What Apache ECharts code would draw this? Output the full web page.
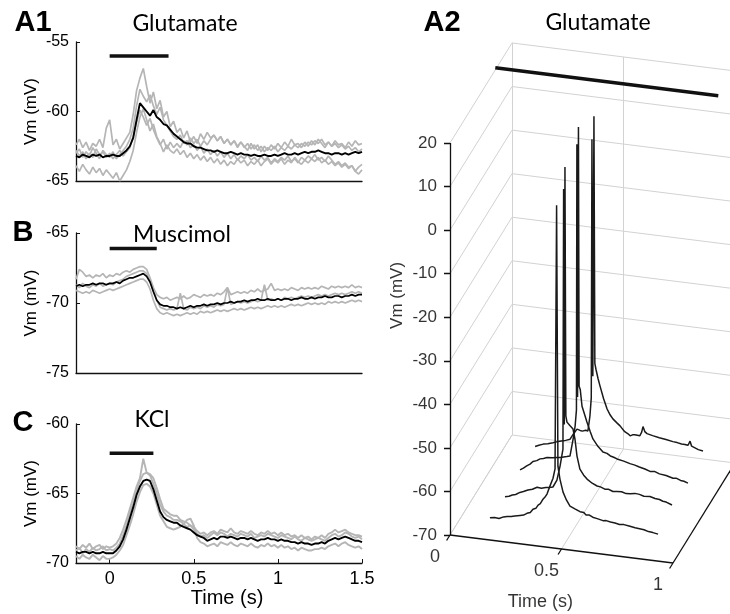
<!DOCTYPE html>
<html><head><meta charset="utf-8">
<script src="https://cdn.jsdelivr.net/npm/echarts@6/dist/echarts.min.js"></script>
<style>html,body{margin:0;padding:0;background:#fff}#c{width:730px;height:614px}</style>
</head><body><div id="c"></div>
<script>
// ---------- sampling of left-panel traces ----------
const T0 = -0.2, DT = 0.02;   // traces sampled every 20 ms from -0.2 s

// ---------- A1 Glutamate ----------
const a1Mean = [-63.2,-63.3,-63.1,-63.2,-63.3,-63.1,-63.2,-63.1,-63.3,-63.2,
 -63.2,-63.1,-63.2,-63.2,-63.0,-62.8,-62.5,-61.9,-60.6,-59.4,
 -59.7,-60.0,-60.3,-59.9,-60.4,-60.6,-60.9,-61.0,-61.3,-61.6,
 -61.8,-62.0,-62.2,-62.3,-62.3,-62.5,-62.6,-62.6,-62.7,-62.8,
 -62.8,-62.9,-62.8,-62.9,-63.0,-63.0,-62.9,-63.0,-63.1,-63.0,
 -63.1,-63.1,-63.2,-63.1,-63.2,-63.2,-63.1,-63.2,-63.2,-63.1,
 -63.2,-63.1,-63.0,-63.1,-63.1,-63.0,-63.1,-63.0,-62.9,-63.0,
 -62.9,-62.9,-62.8,-62.9,-63.0,-63.0,-63.1,-63.0,-63.0,-63.1,
 -63.0,-63.1,-63.0,-62.9,-63.0,-62.9];
const a1Trial1 = [-62.4,-62.0,-62.6,-62.2,-62.8,-62.3,-62.5,-62.0,-62.6,-61.2,
 -60.6,-62.4,-62.0,-62.7,-62.3,-61.9,-61.5,-60.2,-58.5,-57.6,
 -56.9,-58.2,-59.4,-58.6,-59.8,-59.2,-60.4,-60.0,-61.1,-60.7,
 -61.5,-61.2,-61.9,-61.4,-62.2,-61.8,-62.3,-61.6,-62.0,-61.5,
 -61.9,-61.7,-62.1,-61.8,-62.3,-62.0,-62.4,-62.1,-62.6,-62.2,
 -62.5,-62.8,-62.3,-62.7,-62.4,-62.9,-62.5,-62.8,-62.4,-62.7,
 -62.3,-62.6,-62.2,-62.5,-62.0,-62.4,-62.3,-62.6,-62.2,-62.5,
 -62.1,-62.4,-62.0,-62.3,-62.6,-62.2,-62.5,-62.1,-62.4,-62.3,
 -62.6,-62.2,-62.5,-62.1,-62.4,-62.3];
const a1Trial2 = [-63.9,-64.3,-63.8,-64.2,-64.5,-64.0,-64.4,-64.1,-64.6,-64.2,
 -64.5,-64.8,-64.4,-65.0,-64.6,-64.2,-63.6,-62.8,-61.5,-60.4,
 -59.8,-60.6,-61.4,-60.9,-61.8,-62.3,-62.9,-62.4,-62.8,-63.0,
 -62.7,-63.1,-62.8,-63.3,-63.0,-63.4,-63.1,-63.5,-63.2,-63.6,
 -63.3,-63.7,-63.4,-63.8,-63.5,-63.9,-63.6,-63.8,-63.4,-63.7,
 -63.5,-63.9,-63.6,-63.8,-63.5,-63.9,-63.6,-63.4,-63.8,-63.5,
 -63.7,-63.4,-63.8,-63.5,-63.7,-63.3,-63.6,-63.8,-63.5,-63.7,
 -63.4,-63.6,-63.3,-63.7,-63.5,-63.8,-63.6,-63.9,-63.7,-64.0,
 -63.8,-64.1,-63.9,-64.3,-64.0,-63.8];
const a1Trial3 = [-63.0,-62.7,-63.3,-62.9,-63.2,-62.6,-63.0,-63.4,-62.8,-63.1,
 -63.3,-62.9,-63.4,-63.1,-62.8,-62.5,-62.0,-61.2,-59.6,-58.4,
 -58.9,-59.3,-58.8,-59.6,-60.2,-59.7,-60.6,-61.0,-61.4,-61.8,
 -62.0,-61.7,-62.3,-62.1,-62.6,-62.4,-62.8,-62.5,-63.0,-62.7,
 -63.1,-62.8,-63.2,-62.9,-63.3,-63.0,-63.4,-63.1,-63.5,-63.2,
 -63.4,-63.1,-63.5,-63.3,-63.6,-63.2,-63.5,-63.3,-63.7,-63.4,
 -63.6,-63.3,-63.5,-63.2,-63.6,-63.4,-63.7,-63.3,-63.5,-63.2,
 -63.4,-63.1,-63.5,-63.3,-63.6,-63.2,-63.5,-63.8,-63.6,-63.9,
 -63.7,-64.0,-63.9,-64.3,-64.5,-64.2];
const a1Trial4 = [-62.8,-63.2,-62.9,-63.4,-63.0,-63.3,-62.7,-63.1,-62.9,-63.3,
 -63.0,-63.4,-63.1,-62.8,-63.2,-62.9,-62.6,-61.8,-60.8,-59.9,
 -60.4,-61.0,-60.5,-61.3,-61.9,-62.4,-62.0,-62.7,-62.2,-62.6,
 -62.3,-62.6,-62.1,-62.4,-61.9,-62.3,-62.0,-62.5,-62.1,-62.4,
 -62.0,-61.7,-62.1,-61.8,-62.3,-62.0,-62.4,-62.1,-62.5,-62.2,
 -62.6,-62.3,-62.7,-62.4,-62.8,-62.5,-62.9,-62.6,-62.8,-62.5,
 -62.9,-62.6,-62.8,-62.5,-62.7,-62.4,-62.6,-62.3,-62.5,-62.2,
 -62.4,-62.1,-62.3,-62.0,-62.4,-62.2,-62.5,-62.3,-62.6,-62.4,
 -62.7,-62.5,-62.8,-62.6,-62.9,-62.7];
const a1StimTime = [0, 0.35], a1StimLevel = -56.0;

// ---------- B Muscimol ----------
const bMean = [-68.8,-68.7,-68.8,-68.7,-68.7,-68.6,-68.7,-68.6,-68.6,-68.7,
 -68.6,-68.6,-68.5,-68.6,-68.4,-68.3,-68.2,-68.2,-68.1,-68.0,
 -67.9,-68.1,-68.5,-69.2,-69.8,-70.1,-70.2,-70.2,-70.3,-70.3,
 -70.4,-70.3,-70.4,-70.3,-70.2,-70.3,-70.2,-70.2,-70.1,-70.2,
 -70.1,-70.1,-70.0,-70.1,-70.0,-70.0,-69.9,-70.0,-69.9,-69.9,
 -69.8,-69.9,-69.8,-69.8,-69.7,-69.8,-69.8,-69.7,-69.8,-69.8,
 -69.7,-69.8,-69.7,-69.7,-69.8,-69.7,-69.7,-69.6,-69.7,-69.7,
 -69.6,-69.7,-69.6,-69.6,-69.5,-69.6,-69.6,-69.5,-69.5,-69.6,
 -69.5,-69.5,-69.4,-69.5,-69.4,-69.4];
const bTrial1 = [-68.3,-67.6,-67.8,-68.1,-68.0,-68.2,-68.0,-68.1,-67.9,-68.2,
 -68.0,-68.1,-67.9,-68.0,-67.8,-67.7,-67.8,-67.6,-67.5,-67.4,
 -67.4,-67.6,-68.2,-68.9,-69.4,-69.6,-69.7,-69.6,-69.8,-69.7,
 -69.6,-69.7,-69.5,-69.7,-69.6,-69.4,-69.5,-69.6,-69.4,-69.5,
 -69.4,-69.5,-69.3,-69.4,-69.2,-68.9,-69.4,-69.3,-69.2,-69.3,
 -69.2,-69.3,-69.1,-69.2,-69.0,-69.2,-69.1,-69.0,-68.6,-69.1,
 -69.0,-69.1,-69.0,-69.1,-68.9,-69.0,-69.1,-68.9,-69.0,-68.9,
 -69.0,-68.9,-69.0,-68.8,-68.9,-69.0,-68.8,-68.9,-68.8,-68.9,
 -68.8,-68.9,-68.7,-68.9,-68.8,-68.9];
const bTrial2 = [-69.1,-69.2,-69.3,-69.2,-69.3,-69.1,-69.2,-69.3,-69.2,-69.1,
 -69.0,-69.1,-69.0,-68.9,-68.8,-68.7,-68.6,-68.5,-68.4,-68.3,
 -68.3,-68.5,-69.0,-69.8,-70.4,-70.7,-70.8,-70.7,-70.8,-70.9,
 -70.8,-70.9,-70.8,-70.7,-70.8,-70.7,-70.8,-70.6,-70.7,-70.6,
 -70.7,-70.6,-70.5,-70.6,-70.5,-70.6,-70.5,-70.4,-70.5,-70.4,
 -70.5,-70.4,-70.3,-70.4,-70.3,-70.4,-70.3,-70.2,-70.3,-70.2,
 -70.3,-70.2,-70.3,-70.2,-70.1,-70.2,-70.1,-70.2,-70.1,-70.0,
 -70.1,-70.0,-70.1,-70.0,-70.1,-69.9,-70.0,-69.9,-70.0,-69.9,
 -70.0,-69.9,-69.8,-69.9,-69.8,-69.9];
const bTrial3 = [-68.7,-68.9,-68.6,-68.8,-68.9,-68.7,-68.8,-68.6,-68.8,-68.7,
 -68.6,-68.7,-68.5,-68.4,-68.3,-68.1,-68.0,-67.9,-67.8,-67.7,
 -67.7,-67.9,-68.4,-69.1,-69.8,-70.3,-70.4,-70.5,-70.4,-70.5,
 -70.4,-69.3,-70.4,-70.5,-70.3,-70.4,-70.3,-70.4,-70.2,-70.3,
 -70.2,-70.3,-70.1,-70.2,-70.1,-68.9,-70.1,-70.0,-69.9,-70.0,
 -69.9,-70.0,-69.9,-69.8,-69.9,-69.8,-68.7,-69.8,-69.7,-69.8,
 -69.7,-69.8,-69.6,-69.7,-69.6,-69.7,-69.6,-69.5,-69.6,-69.5,
 -69.6,-69.5,-69.4,-69.5,-69.4,-69.5,-69.4,-69.3,-69.4,-69.3,
 -69.4,-69.3,-69.2,-69.3,-69.2,-69.3];
const bStimTime = [0, 0.28], bStimLevel = -66.1;

// ---------- C KCl ----------
const cMean = [-69.2,-69.3,-69.2,-69.2,-69.3,-69.2,-69.3,-69.3,-69.2,-69.3,
 -69.3,-69.3,-69.1,-68.8,-68.3,-67.6,-66.8,-66.0,-65.1,-64.5,
 -64.1,-64.0,-64.1,-64.7,-65.5,-66.3,-66.7,-66.9,-67.0,-67.1,
 -67.1,-67.3,-67.4,-67.5,-67.6,-67.8,-68.0,-68.1,-68.2,-68.4,
 -68.3,-68.2,-68.3,-68.1,-68.1,-68.2,-68.1,-68.2,-68.3,-68.2,
 -68.2,-68.3,-68.2,-68.3,-68.4,-68.3,-68.3,-68.2,-68.3,-68.3,
 -68.4,-68.3,-68.4,-68.4,-68.5,-68.5,-68.6,-68.5,-68.6,-68.6,
 -68.7,-68.6,-68.6,-68.5,-68.6,-68.4,-68.3,-68.2,-68.3,-68.2,
 -68.1,-68.2,-68.3,-68.4,-68.4,-68.5];
const cTrial1 = [-68.8,-69.0,-68.7,-68.9,-68.6,-69.0,-68.8,-68.7,-69.0,-68.8,
 -68.9,-68.8,-68.6,-68.2,-67.6,-66.9,-66.1,-65.3,-64.5,-63.9,
 -62.5,-63.5,-63.6,-63.9,-64.6,-65.4,-66.1,-66.3,-66.5,-66.6,
 -66.6,-66.9,-67.0,-67.1,-67.3,-67.4,-67.7,-67.9,-67.8,-68.0,
 -67.8,-67.7,-67.9,-67.6,-67.7,-67.8,-67.5,-67.8,-67.9,-67.7,
 -67.8,-67.9,-67.7,-67.9,-68.0,-67.8,-67.9,-67.7,-67.9,-67.8,
 -68.0,-67.8,-68.0,-67.9,-68.1,-68.0,-68.2,-68.0,-68.2,-68.1,
 -68.3,-68.1,-68.2,-68.0,-68.2,-67.9,-67.8,-67.6,-67.8,-67.7,
 -67.6,-67.8,-67.9,-68.0,-68.0,-68.1];
const cTrial2 = [-69.5,-69.7,-69.4,-69.6,-69.7,-69.4,-69.6,-69.8,-69.5,-69.7,
 -69.7,-69.6,-69.4,-69.1,-68.7,-68.0,-67.3,-66.5,-65.6,-64.9,
 -64.4,-64.3,-64.5,-65.0,-65.8,-66.6,-67.0,-67.4,-67.5,-67.6,
 -67.5,-67.4,-67.2,-66.9,-66.8,-67.3,-68.2,-68.5,-68.6,-68.8,
 -68.7,-68.6,-68.8,-68.5,-68.6,-68.7,-68.5,-68.7,-68.8,-68.6,
 -68.7,-68.8,-68.6,-68.8,-68.9,-68.7,-68.8,-68.6,-68.8,-68.7,
 -68.9,-68.7,-68.9,-68.8,-69.0,-68.9,-69.1,-68.9,-69.0,-69.1,
 -69.1,-69.0,-69.0,-68.9,-69.0,-68.8,-68.7,-68.6,-68.8,-68.6,
 -68.5,-68.7,-68.8,-68.9,-68.8,-69.0];
const cTrial3 = [-69.1,-68.9,-69.3,-69.0,-69.2,-68.9,-69.1,-69.0,-68.8,-69.1,
 -69.0,-69.1,-68.9,-68.6,-68.0,-67.3,-66.4,-65.7,-64.8,-64.1,
 -63.6,-63.5,-63.7,-64.3,-65.0,-65.8,-66.3,-66.6,-66.7,-66.9,
 -66.9,-67.0,-67.2,-67.4,-67.3,-67.6,-67.9,-68.1,-68.0,-68.2,
 -68.0,-67.8,-68.0,-67.8,-67.9,-68.1,-67.9,-68.0,-68.1,-67.9,
 -68.0,-68.1,-67.9,-68.2,-68.1,-68.0,-68.1,-67.9,-68.0,-68.1,
 -68.2,-68.0,-68.1,-68.2,-68.3,-68.1,-68.3,-68.4,-68.2,-68.3,
 -68.4,-68.3,-68.2,-68.3,-68.4,-68.2,-68.0,-67.9,-68.1,-68.0,
 -67.8,-67.9,-68.1,-68.2,-68.1,-68.3];
const cStimTime = [0, 0.26], cStimLevel = -62.1;
const cTimeTicks = [0, 0.5, 1, 1.5];

// ---------- A2 3-D waterfall (time s, Vm mV) per trial, with trial depth ----------
const a2Depths = [0, 0.25, 0.5, 0.75];
const a2Trial1 = [[0.179,-64.9],[0.20,-64.7],[0.22,-64.8],[0.24,-64.3],[0.256,-64.1],[0.275,-64.0],[0.29,-63.8],[0.314,-63.5],[0.33,-63.3],[0.345,-62.8],[0.36,-62.5],[0.372,-61.7],[0.385,-61.4],[0.395,-60.6],[0.405,-60.2],[0.417,-59.1],[0.428,-58.4],[0.435,-57.8],[0.448,-55.9],[0.462,-54.0],[0.471,-51.8],[0.478,8.8],[0.484,-51.1],[0.493,-54.0],[0.507,-56.9],[0.522,-58.6],[0.538,-59.9],[0.56,-60.4],[0.583,-60.9],[0.60,-61.0],[0.61,-61.5],[0.625,-61.4],[0.64,-61.8],[0.66,-62.0],[0.686,-62.3],[0.70,-62.2],[0.72,-62.4],[0.74,-62.5],[0.76,-62.7],[0.78,-62.6],[0.807,-62.8],[0.83,-63.0],[0.85,-63.1],[0.87,-63.2],[0.89,-63.5],[0.91,-63.6],[0.933,-63.8]];
const a2Trial2 = [[0.177,-65.8],[0.195,-65.6],[0.21,-65.2],[0.225,-65.0],[0.244,-64.4],[0.26,-64.1],[0.28,-63.6],[0.30,-63.3],[0.321,-62.7],[0.34,-62.8],[0.36,-62.5],[0.375,-62.4],[0.392,-62.2],[0.41,-60.5],[0.424,-57.2],[0.437,-53.2],[0.440,6.5],[0.443,-47.5],[0.446,11.6],[0.450,-45.5],[0.455,-46.9],[0.468,-47.6],[0.482,-48.3],[0.491,-50.6],[0.5,-54.4],[0.513,-57.3],[0.53,-58.6],[0.545,-59.4],[0.568,-60.2],[0.59,-60.7],[0.605,-60.8],[0.625,-61.2],[0.64,-61.1],[0.661,-61.5],[0.68,-61.4],[0.70,-61.3],[0.72,-61.6],[0.738,-61.5],[0.76,-61.3],[0.78,-61.4],[0.80,-61.7],[0.827,-61.6],[0.85,-61.9],[0.87,-62.0],[0.885,-62.3],[0.90,-62.4],[0.926,-62.9]];
const a2Trial3 = [[0.175,-65.4],[0.19,-64.9],[0.205,-64.3],[0.22,-63.8],[0.233,-63.1],[0.25,-62.8],[0.265,-62.3],[0.28,-62.1],[0.296,-61.8],[0.32,-61.7],[0.341,-61.5],[0.355,-61.4],[0.37,-61.2],[0.385,-61.0],[0.399,-60.8],[0.413,-56.8],[0.422,-53.8],[0.428,-50.0],[0.430,11.0],[0.433,-47.0],[0.437,15.0],[0.440,-44.5],[0.445,-45.2],[0.453,-49.0],[0.465,-50.9],[0.475,-52.5],[0.49,-54.6],[0.502,-56.2],[0.525,-57.8],[0.547,-58.9],[0.565,-59.1],[0.58,-59.6],[0.595,-59.8],[0.61,-60.1],[0.64,-60.4],[0.668,-60.8],[0.69,-61.0],[0.71,-61.3],[0.735,-61.6],[0.758,-62.0],[0.78,-61.9],[0.80,-62.3],[0.83,-62.5],[0.861,-62.9],[0.875,-62.8],[0.895,-63.2],[0.91,-63.3],[0.928,-63.6]];
const a2Trial4 = [[0.173,-65.8],[0.19,-65.4],[0.21,-65.0],[0.23,-64.8],[0.253,-64.4],[0.27,-64.1],[0.29,-63.8],[0.31,-63.5],[0.33,-63.1],[0.345,-61.8],[0.361,-60.6],[0.375,-60.8],[0.385,-60.9],[0.40,-60.6],[0.41,-60.7],[0.419,-57.2],[0.425,-53.0],[0.428,6.4],[0.432,-48.0],[0.437,11.7],[0.441,-45.0],[0.446,-46.3],[0.455,-48.3],[0.464,-50.0],[0.48,-52.8],[0.496,-55.1],[0.51,-56.4],[0.522,-57.2],[0.54,-58.0],[0.554,-58.6],[0.575,-59.8],[0.59,-60.2],[0.599,-60.6],[0.61,-60.3],[0.62,-60.2],[0.643,-60.3],[0.651,-59.4],[0.657,-58.1],[0.665,-59.2],[0.675,-59.6],[0.70,-59.9],[0.73,-60.2],[0.76,-60.4],[0.791,-60.7],[0.81,-60.8],[0.83,-61.0],[0.845,-61.0],[0.859,-61.1],[0.868,-60.1],[0.875,-61.2],[0.881,-61.6],[0.905,-61.8],[0.926,-62.0]];
const a2StimTime = [0, 1], a2StimDepth = 0.73, a2StimLevel = 20.5;
const a2ZTicks = [20, 10, 0, -10, -20, -30, -40, -50, -60, -70];
const a2TimeTicks = [0, 0.5, 1];
const a2TimeTickLabels = ['0', '0.5', '1'];
const a2ZRange = [-70, 20], a2TimeRange = [0, 1], a2DepthRange = [0, 1];

// ---------- helpers ----------
const NUM_FONT = 'Liberation Sans, Arial, Helvetica, sans-serif';
const pairs = vals => vals.map((v, i) => [+(T0 + DT * i).toFixed(3), v]);

// oblique view of the 3-D box: time runs right (slightly down), depth goes up-right
const VIEW = { pxPerS: 223, pxPerMv: 4.356, tDown: 28, dRight: 62, dUp: 100 };
function proj(t, d, z) {
  return [t + d * VIEW.dRight / VIEW.pxPerS,
          z - t * VIEW.tDown / VIEW.pxPerMv + d * VIEW.dUp / VIEW.pxPerMv];
}

const series = [];
function traceSeries(gi, vals, color, width, zl) {
  series.push({ type: 'line', xAxisIndex: gi, yAxisIndex: gi, data: pairs(vals),
    showSymbol: false, symbol: 'none', silent: true, z: zl,
    lineStyle: { color: color, width: width } });
}
function stimSeries(gi, tt, lvl) {
  series.push({ type: 'line', xAxisIndex: gi, yAxisIndex: gi, data: [[tt[0], lvl], [tt[1], lvl]],
    showSymbol: false, symbol: 'none', silent: true, z: 5,
    lineStyle: { color: '#111', width: 3.5, cap: 'butt' } });
}
const GRAY = '#b5b5b5';
[a1Trial1, a1Trial2, a1Trial3, a1Trial4].forEach(v => traceSeries(0, v, GRAY, 1.7, 2));
traceSeries(0, a1Mean, '#000', 1.9, 4); stimSeries(0, a1StimTime, a1StimLevel);
[bTrial1, bTrial2, bTrial3].forEach(v => traceSeries(1, v, GRAY, 1.7, 2));
traceSeries(1, bMean, '#000', 1.7, 4); stimSeries(1, bStimTime, bStimLevel);
[cTrial1, cTrial2, cTrial3].forEach(v => traceSeries(2, v, GRAY, 1.9, 2));
traceSeries(2, cMean, '#000', 1.9, 4); stimSeries(2, cStimTime, cStimLevel);

// ----- A2 box grid lines -----
const [zLo, zHi] = a2ZRange, [tLo, tHi] = a2TimeRange, [dLo, dHi] = a2DepthRange;
const gridSegs = [];
a2ZTicks.forEach(z => {
  gridSegs.push({ coords: [proj(tLo, dLo, z), proj(tLo, dHi, z)] });   // left wall
  gridSegs.push({ coords: [proj(tLo, dHi, z), proj(tHi, dHi, z)] });   // back wall
});
a2TimeTicks.forEach(t => {
  gridSegs.push({ coords: [proj(t, dHi, zLo), proj(t, dHi, zHi)] });   // back wall verticals
  if (t < tHi) gridSegs.push({ coords: [proj(t, dLo, zLo), proj(t, dHi, zLo)] }); // floor
});
series.push({ type: 'lines', coordinateSystem: 'cartesian2d', xAxisIndex: 3, yAxisIndex: 3,
  polyline: false, silent: true, z: 1, data: gridSegs,
  lineStyle: { color: '#d2d2d2', width: 1, opacity: 1, curveness: 0 } });

// ----- A2 black axes and ticks -----
const axisSegs = [
  { coords: [proj(tLo, dLo, zLo), proj(tLo, dLo, zHi)] },
  { coords: [proj(tLo, dLo, zLo), proj(tHi, dLo, zLo)] },
  { coords: [proj(tHi, dLo, zLo), proj(tHi, dHi, zLo)] }
];
a2ZTicks.forEach(z => {
  const p = proj(tLo, dLo, z);
  axisSegs.push({ coords: [p, [p[0] - 6 / VIEW.pxPerS, p[1]]] });
});
a2TimeTicks.forEach(t => axisSegs.push({ coords: [proj(t, dLo, zLo), proj(t, -0.055, zLo)] }));
series.push({ type: 'lines', coordinateSystem: 'cartesian2d', xAxisIndex: 3, yAxisIndex: 3,
  polyline: false, silent: true, z: 3, data: axisSegs,
  lineStyle: { color: '#111', width: 1.3, opacity: 1, curveness: 0 } });

// ----- A2 traces -----
[a2Trial1, a2Trial2, a2Trial3, a2Trial4].forEach((tr, k) => {
  series.push({ type: 'line', xAxisIndex: 3, yAxisIndex: 3, showSymbol: false, symbol: 'none',
    silent: true, z: 6 - k, data: tr.map(p => proj(p[0], a2Depths[k], p[1])),
    lineStyle: { color: '#1a1a1a', width: 1.5 } });
});
series.push({ type: 'line', xAxisIndex: 3, yAxisIndex: 3, showSymbol: false, symbol: 'none', silent: true, z: 6,
  data: a2StimTime.map(t => proj(t, a2StimDepth, a2StimLevel)),
  lineStyle: { color: '#111', width: 3.5, cap: 'butt' } });

// ----- A2 tick labels and names -----
const lbl = (extra) => Object.assign({ show: true, color: '#000', fontFamily: NUM_FONT, fontSize: 17 }, extra);
series.push({ type: 'scatter', xAxisIndex: 3, yAxisIndex: 3, symbolSize: 0, silent: true,
  data: a2ZTicks.map(z => proj(tLo, dLo, z).concat([String(z)])),
  label: lbl({ position: 'left', distance: 13, formatter: p => p.value[2] }) });
series.push({ type: 'scatter', xAxisIndex: 3, yAxisIndex: 3, symbolSize: 0, silent: true,
  data: a2TimeTicks.map((t, i) => proj(t, dLo, zLo).concat([a2TimeTickLabels[i]])),
  label: lbl({ position: 'bottom', distance: 13, offset: [-15, 0], fontSize: 18, formatter: p => p.value[2] }) });
series.push({ type: 'scatter', xAxisIndex: 3, yAxisIndex: 3, symbolSize: 0, silent: true,
  data: [proj(0.45, dLo, zLo).concat(['Time (s)'])],
  label: lbl({ position: 'bottom', distance: 45, offset: [-10, 0], fontSize: 18, formatter: p => p.value[2] }) });
series.push({ type: 'scatter', xAxisIndex: 3, yAxisIndex: 3, symbolSize: 0, silent: true,
  data: [proj(tLo, dLo, -15).concat(['Vm (mV)'])],
  label: lbl({ position: 'inside', offset: [0, -53], rotate: 90, align: 'center', verticalAlign: 'middle', formatter: p => p.value[2] }) });

// ---------- axes ----------
const leftGrids = [
  { left: 76, top: 42, width: 286, height: 139 },
  { left: 76, top: 233, width: 286, height: 140 },
  { left: 76, top: 424, width: 286, height: 139 }
];
const yRanges = [[-65, -55], [-75, -65], [-70, -60]];
const A2X = [-0.3, 1.25], A2Y = [-85, 50];
const grids = leftGrids.concat([{ left: 450 + A2X[0] * 223, top: 535 - 4.356 * (A2Y[1] + 70),
  width: (A2X[1] - A2X[0]) * 223, height: (A2Y[1] - A2Y[0]) * 4.356 }]);
const xAxes = [0, 1, 2].map(i => ({
  type: 'value', gridIndex: i, min: -0.2, max: 1.5,
  axisLine: { show: true, onZero: false, lineStyle: { color: '#111', width: 1.3 } },
  splitLine: { show: false },
  axisTick: i === 2 ? { show: true, inside: true, length: 4, customValues: cTimeTicks, lineStyle: { color: '#111' } } : { show: false },
  axisLabel: i === 2 ? { show: true, customValues: cTimeTicks, formatter: v => String(v), color: '#000', fontFamily: NUM_FONT, fontSize: 18, margin: 7 } : { show: false },
  name: i === 2 ? 'Time (s)' : '', nameLocation: 'middle', nameGap: 18,
  nameTextStyle: { color: '#000', fontFamily: NUM_FONT, fontSize: 20, padding: [0, 0, 0, 16] }
})).concat([{ type: 'value', gridIndex: 3, min: A2X[0], max: A2X[1], show: false }]);
const yAxes = [0, 1, 2].map(i => ({
  type: 'value', gridIndex: i, min: yRanges[i][0], max: yRanges[i][1], interval: 5,
  axisLine: { show: true, onZero: false, lineStyle: { color: '#111', width: 1.3 } },
  axisTick: { show: true, inside: true, length: 4, lineStyle: { color: '#111' } },
  splitLine: { show: false },
  axisLabel: { color: '#000', fontFamily: NUM_FONT, fontSize: 16, margin: 7 },
  name: 'Vm (mV)', nameLocation: 'middle', nameGap: 36, nameRotate: 90,
  nameTextStyle: { color: '#000', fontFamily: NUM_FONT, fontSize: 17 }
})).concat([{ type: 'value', gridIndex: 3, min: A2Y[0], max: A2Y[1], show: false }]);

// ---------- titles / panel letters ----------
const txt = (x, y, s, size, family, weight) => ({ type: 'text', x: x, y: y, silent: true,
  style: { text: s, fontSize: size, fontFamily: family, fontWeight: weight || 'normal', fill: '#000', align: 'center', verticalAlign: 'middle' } });
const TITLE_FONT = 'Lato, Open Sans, sans-serif';
const graphic = [
  txt(33, 23, 'A1', 29, NUM_FONT, 'bold'), txt(23, 233, 'B', 29, NUM_FONT, 'bold'),
  txt(23, 423, 'C', 29, NUM_FONT, 'bold'), txt(442, 23, 'A2', 29, NUM_FONT, 'bold'),
  txt(185, 24, 'Glutamate', 23, TITLE_FONT), txt(182, 235, 'Muscimol', 23, TITLE_FONT),
  txt(152, 420, 'KCl', 23, TITLE_FONT), txt(598, 23, 'Glutamate', 23, TITLE_FONT)
];

const chart = echarts.init(document.getElementById('c'), null, { renderer: 'canvas' });
chart.setOption({
  animation: false, backgroundColor: '#fff',
  grid: grids, xAxis: xAxes, yAxis: yAxes, series: series, graphic: graphic
});
</script></body></html>
